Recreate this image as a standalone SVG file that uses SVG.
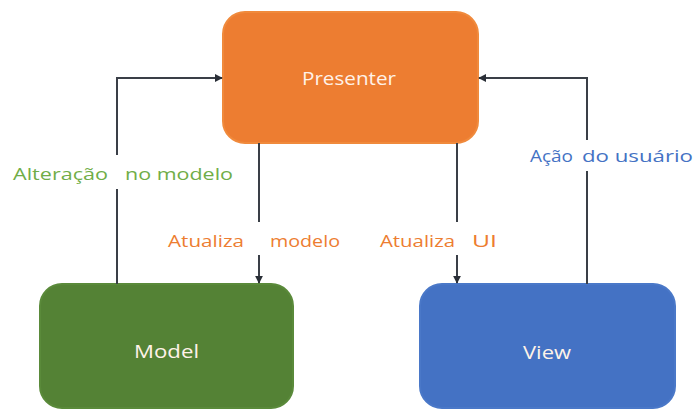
<svg xmlns="http://www.w3.org/2000/svg" width="696" height="410" viewBox="0 0 696 410">
  <style>
    .box { stroke-width: 2; }
    .name { font-family: "Open Sans", "Liberation Sans", sans-serif; font-size: 18px; fill: #FFF2E8; dominant-baseline: central; }
    .wire { fill: none; stroke: #3A3F47; stroke-width: 2; }
    .lbl { font-family: "Open Sans", "Liberation Sans", sans-serif; font-size: 17px; dominant-baseline: central; }
    .green { fill: #70AD47; }
    .orange { fill: #ED7D31; }
    .blue { fill: #4472C4; }
  </style>
  <defs>
    <marker id="tip" viewBox="0 0 10 10" refX="9" refY="5" markerWidth="4" markerHeight="4" orient="auto" markerUnits="strokeWidth">
      <path d="M0,0 L10,5 L0,10 z" fill="#2A2F37"/>
    </marker>
  </defs>
  <rect width="696" height="410" fill="#FFFFFF"/>

  <g id="presenter">
    <rect class="box" x="223" y="12" width="255" height="131" rx="22" fill="#ED7D31" stroke="#F08A3C"/>
    <text class="name" x="302" y="78" textLength="94" lengthAdjust="spacingAndGlyphs">Presenter</text>
  </g>
  <g id="model">
    <rect class="box" x="40" y="284" width="253" height="124" rx="22" fill="#548235" stroke="#5A8A3A"/>
    <text class="name" x="134" y="351" textLength="65" lengthAdjust="spacingAndGlyphs">Model</text>
  </g>
  <g id="view">
    <rect class="box" x="420" y="284" width="255" height="124" rx="22" fill="#4472C4" stroke="#4A78C8"/>
    <text class="name" x="523" y="352" textLength="48" lengthAdjust="spacingAndGlyphs">View</text>
  </g>

  <g id="connectors">
    <!-- Model -> Presenter -->
    <path class="wire" d="M117,284 V189"/>
    <path class="wire" d="M117,155 V78 H222" marker-end="url(#tip)"/>
    <!-- Presenter -> Model -->
    <path class="wire" d="M259,143 V222"/>
    <path class="wire" d="M259,255 V283" marker-end="url(#tip)"/>
    <!-- Presenter -> View -->
    <path class="wire" d="M457,143 V222"/>
    <path class="wire" d="M457,255 V283" marker-end="url(#tip)"/>
    <!-- View -> Presenter -->
    <path class="wire" d="M587,284 V171"/>
    <path class="wire" d="M587,140 V78 H479" marker-end="url(#tip)"/>
  </g>

  <g id="labels">
    <text class="lbl green" x="13" y="173" textLength="95" lengthAdjust="spacingAndGlyphs">Alteração</text>
    <text class="lbl green" x="125" y="173" textLength="108" lengthAdjust="spacingAndGlyphs">no modelo</text>
    <text class="lbl orange" x="168" y="240" textLength="76" lengthAdjust="spacingAndGlyphs">Atualiza</text>
    <text class="lbl orange" x="270" y="240" textLength="70" lengthAdjust="spacingAndGlyphs">modelo</text>
    <text class="lbl orange" x="380" y="240" textLength="75" lengthAdjust="spacingAndGlyphs">Atualiza</text>
    <text class="lbl orange" x="472" y="240" textLength="25" lengthAdjust="spacingAndGlyphs">UI</text>
    <text class="lbl blue" x="530" y="155" textLength="43" lengthAdjust="spacingAndGlyphs">Ação</text>
    <text class="lbl blue" x="582" y="155" textLength="111" lengthAdjust="spacingAndGlyphs">do usuário</text>
  </g>
</svg>
